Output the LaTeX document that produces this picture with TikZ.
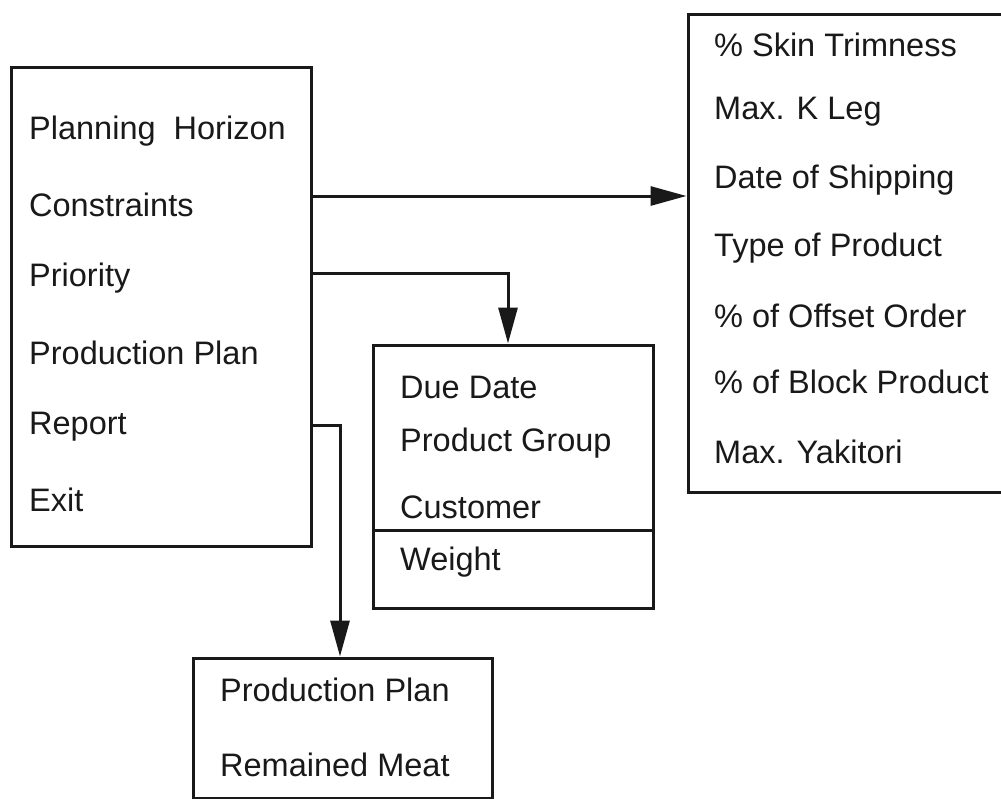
\documentclass[tikz,border=0pt]{standalone}
\usepackage{fontspec}
\setmainfont{Liberation Sans}
\usetikzlibrary{arrows.meta}
\begin{document}
\begin{tikzpicture}[x=1pt,y=-1pt,
  box/.style={draw=black!90, line width=3pt, rectangle, inner sep=0pt},
  lbl/.style={anchor=west, inner sep=0pt, font=\fontsize{32.5}{32.5}\selectfont, text=black!90},
  conn/.style={draw=black!90, line width=3pt, -{Triangle[length=36pt,width=19pt]}}]
\useasboundingbox (0,0) rectangle (1001,798);
\clip (0,0) rectangle (1001,798);
% boxes
\node[box, minimum width=300pt, minimum height=479pt] (menu) at (161,306.5) {};
\node[box, minimum width=280pt, minimum height=263pt] (mid) at (513,476.5) {};
\node[box, minimum width=350pt, minimum height=478pt] (right) at (863,253) {};
\node[box, minimum width=299pt, minimum height=140pt] (bot) at (342.5,728) {};
\draw[draw=black!90, line width=3pt] (mid.west |- 0,530) -- (mid.east |- 0,530);
% menu texts
\node[lbl] (m1) at (29,131) {Planning\ \ Horizon};
\node[lbl] (m2) at (29,205) {Constraints};
\node[lbl] (m3) at (29,278) {Priority};
\node[lbl] (m4) at (29,353) {Production Plan};
\node[lbl] (m5) at (29,427) {Report};
\node[lbl] (m6) at (29,500) {Exit};
% middle texts
\node[lbl] (d1) at (400,387) {Due Date};
\node[lbl] (d2) at (400,443) {Product Group};
\node[lbl] (d3) at (400,507) {Customer};
\node[lbl] (d4) at (400,562) {Weight};
% right texts
\node[lbl] (r1) at (714,45) {\% Skin Trimness};
\node[lbl] (r2) at (714,112) {Max. K Leg};
\node[lbl] (r3) at (714,180) {Date of Shipping};
\node[lbl] (r4) at (714,248) {Type of Product};
\node[lbl] (r5) at (714,316) {\% of Offset Order};
\node[lbl] (r6) at (714,382) {\% of Block Product};
\node[lbl] (r7) at (714,452) {Max. Yakitori};
% bottom texts
\node[lbl] (b1) at (220,690) {Production Plan};
\node[lbl] (b2) at (220,765) {Remained Meat};
% connectors
\draw[conn] (menu.east |- 0,196) -- (right.west |- 0,196);
\draw[conn] (menu.east |- 0,273) -| (mid.north -| 508,0);
\draw[conn] (menu.east |- 0,425) -| (bot.north -| 340,0);
\end{tikzpicture}
\end{document}
